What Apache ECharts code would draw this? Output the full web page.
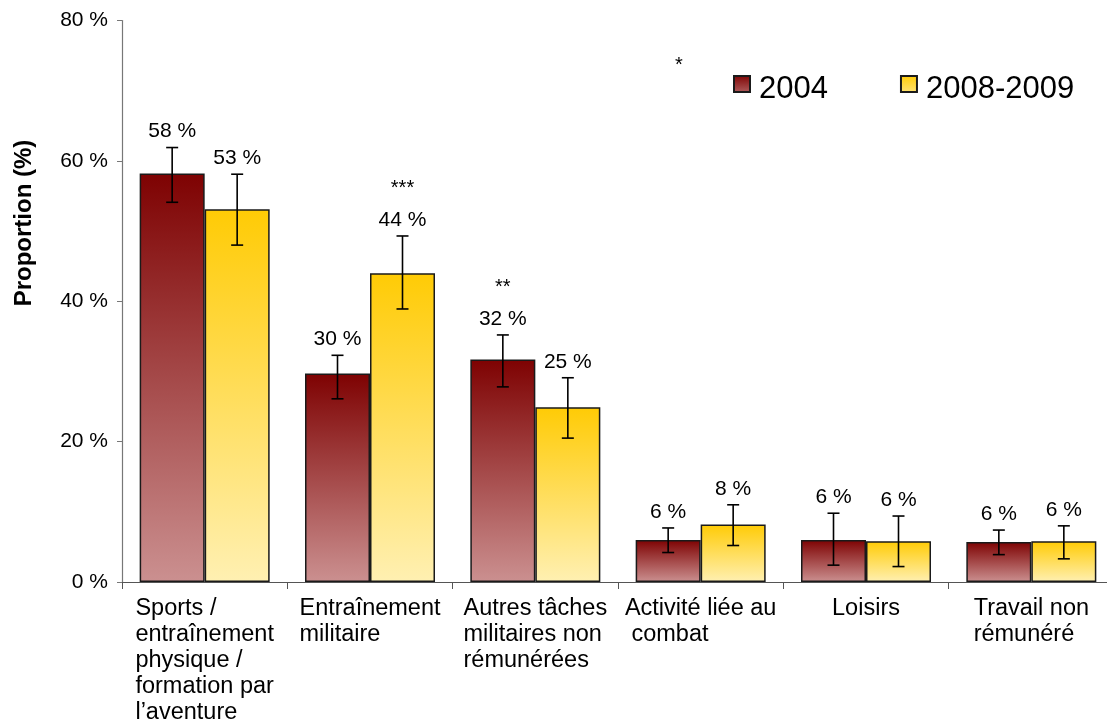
<!DOCTYPE html>
<html>
<head>
<meta charset="utf-8">
<script src="https://cdn.jsdelivr.net/npm/echarts@6/dist/echarts.min.js"></script>
<style>
  html, body { margin: 0; padding: 0; background: #ffffff; }
  #chart { width: 1107px; height: 728px; }
</style>
</head>
<body>
<div id="chart"></div>
<script>
// Activity categories (line breaks as printed under the axis)
const categories = [
  'Sports /\nentraînement\nphysique /\nformation par\nl’aventure',
  'Entraînement\nmilitaire',
  'Autres tâches\nmilitaires non\nrémunérées',
  'Activité liée au\n combat',
  'Loisirs',
  'Travail non\nrémunéré'
];
const seriesNames = ['2004', '2008-2009'];

// Proportions (%)
const values2004 = [58.2, 29.7, 31.7, 6.0, 6.0, 5.7];
const values2008 = [53.1, 44.0, 24.9, 8.2, 5.8, 5.8];

// Confidence intervals (%)
const errLow2004  = [54.1, 26.1, 27.8, 4.2, 2.4, 3.9];
const errHigh2004 = [61.9, 32.3, 35.2, 7.7, 9.8, 7.4];
const errLow2008  = [48.0, 38.9, 20.5, 5.2, 2.2, 3.3];
const errHigh2008 = [58.1, 49.3, 29.1, 11.0, 9.4, 8.0];

// Significance markers printed above the labels
const stars2004 = ['', '', '**', '', '', ''];
const stars2008 = ['', '***', '', '', '', ''];

// Y axis scale
const yMin = 0, yMax = 80, yStep = 20;

const FONT = "'Liberation Sans', Arial, Helvetica, sans-serif";
const BAR_W = 65;

const gradRed = new echarts.graphic.LinearGradient(0, 0, 0, 1, [
  { offset: 0, color: '#7e0202' },
  { offset: 1, color: '#cb9090' }
]);
const gradYellow = new echarts.graphic.LinearGradient(0, 0, 0, 1, [
  { offset: 0, color: '#ffcb05' },
  { offset: 1, color: '#fff0b2' }
]);

// Legend swatch: a square sitting in the upper part of a taller box,
// so the swatch rides a little higher than the legend text
const LEGEND_ICON = 'path://M0,0L16,0L16,16L0,16ZM0,26L0,26';

// Error bars, value labels and significance stars for one series
function errorSeries(idx, vals, low, high, stars) {
  const side = idx === 0 ? -1 : 1;
  return {
    type: 'custom',
    name: seriesNames[idx] + ' IC',
    z: 10,
    silent: true,
    renderItem(params, api) {
      const ci = api.value(0);
      const top = api.coord([ci, api.value(2)]);
      const bot = api.coord([ci, api.value(1)]);
      const x = top[0] + side * BAR_W / 2;
      const cap = 6;
      const ls = { stroke: '#000', lineWidth: 1.6 };
      const i = params.dataIndex;
      const labelY = top[1] - 16;
      const children = [
        { type: 'line', shape: { x1: x, y1: top[1], x2: x, y2: bot[1] }, style: ls },
        { type: 'line', shape: { x1: x - cap, y1: top[1], x2: x + cap, y2: top[1] }, style: ls },
        { type: 'line', shape: { x1: x - cap, y1: bot[1], x2: x + cap, y2: bot[1] }, style: ls },
        { type: 'text', x: x, y: labelY,
          style: { text: Math.round(api.value(3)) + ' %', fontSize: 21, fontFamily: FONT,
                   fill: '#000', align: 'center', verticalAlign: 'middle' } }
      ];
      if (stars[i]) {
        children.push({ type: 'text', x: x, y: labelY - 31,
          style: { text: stars[i], fontSize: 20, fontFamily: FONT, fill: '#000',
                   align: 'center', verticalAlign: 'middle' } });
      }
      return { type: 'group', children };
    },
    data: categories.map((_, i) => [i, low[i], high[i], vals[i]])
  };
}

const chart = echarts.init(document.getElementById('chart'), null, { renderer: 'canvas' });

chart.setOption({
  animation: false,
  backgroundColor: '#ffffff',
  textStyle: { fontFamily: FONT, color: '#000' },
  grid: {
    left: 122, width: 992, top: 20.5, height: 561.5,
    containLabel: false, outerBoundsMode: 'none'
  },
  legend: {
    data: seriesNames,
    left: 733, top: 73.5,
    padding: 0,
    icon: LEGEND_ICON,
    itemWidth: 16, itemHeight: 26,
    itemGap: 72,
    textStyle: { fontSize: 31, lineHeight: 31, fontFamily: FONT, color: '#000', padding: [0, 0, 0, 4] }
  },
  xAxis: {
    type: 'category',
    data: categories,
    axisLine: { lineStyle: { color: '#555', width: 1.2 } },
    axisTick: { show: true, length: 7, lineStyle: { color: '#555' } },
    axisLabel: {
      interval: 0,
      margin: 14,
      color: '#000',
      formatter: v => v.split('\n').map(s => '{l|' + s + '}').join('\n'),
      rich: { l: { align: 'left', fontSize: 23.5, lineHeight: 26, fontFamily: FONT, color: '#000' } }
    },
    splitLine: { show: false }
  },
  yAxis: {
    type: 'value',
    min: yMin, max: yMax, interval: yStep,
    axisLine: { show: true, lineStyle: { color: '#777', width: 1.2 } },
    axisTick: { show: true, length: 5, lineStyle: { color: '#777' } },
    axisLabel: { formatter: '{value} %', fontSize: 21, color: '#000', margin: 14, fontFamily: FONT },
    splitLine: { show: false }
  },
  graphic: [
    { type: 'text', x: 24, y: 223, rotation: Math.PI / 2,
      style: { text: 'Proportion (%)', fontSize: 24, fontWeight: 'bold', fontFamily: FONT,
               fill: '#000', align: 'center', verticalAlign: 'middle' } },
    { type: 'text', x: 679, y: 65,
      style: { text: '*', fontSize: 20, fontFamily: FONT, fill: '#000',
               align: 'center', verticalAlign: 'middle' } }
  ],
  series: [
    {
      name: seriesNames[0], type: 'bar', barWidth: BAR_W, barGap: '0%',
      data: values2004,
      itemStyle: { color: gradRed, borderColor: '#1a1a1a', borderWidth: 1.5 }
    },
    {
      name: seriesNames[1], type: 'bar', barWidth: BAR_W, barGap: '0%',
      data: values2008,
      itemStyle: { color: gradYellow, borderColor: '#1a1a1a', borderWidth: 1.5 }
    },
    errorSeries(0, values2004, errLow2004, errHigh2004, stars2004),
    errorSeries(1, values2008, errLow2008, errHigh2008, stars2008)
  ]
});
</script>
</body>
</html>
